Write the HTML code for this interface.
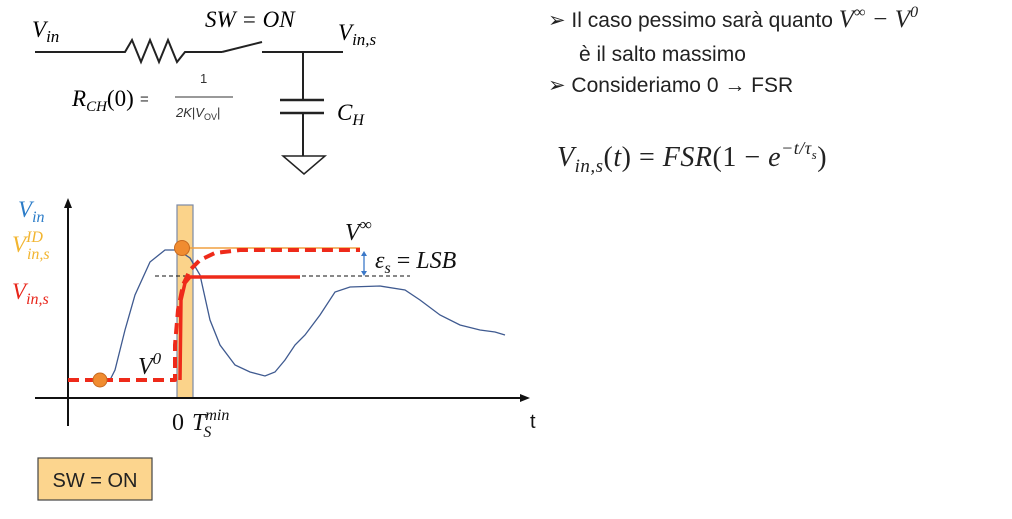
<!DOCTYPE html>
<html><head><meta charset="utf-8"><style>
html,body{margin:0;padding:0;background:#fff;}
svg{display:block;}
.it{font-family:"Liberation Serif",serif;font-style:italic;}
.sans{font-family:"Liberation Sans",sans-serif;}
</style></head><body>
<svg id="root" width="1012" height="519" viewBox="0 0 1012 519" xmlns="http://www.w3.org/2000/svg">
<g stroke="#222" stroke-width="2" fill="none">
  <line x1="35" y1="52" x2="118" y2="52"/>
  <polyline points="118,52 125,52 132,40 141,62 150,40 159,62 168,40 177,62 185,52 222,52"/>
  <line x1="222" y1="52" x2="262" y2="42"/>
  <line x1="262" y1="52" x2="343" y2="52"/>
  <line x1="303" y1="52" x2="303" y2="100"/>
  <line x1="280" y1="100" x2="324" y2="100" stroke-width="2.5"/>
  <line x1="280" y1="113" x2="324" y2="113" stroke-width="2.5"/>
  <line x1="303" y1="113" x2="303" y2="156"/>
  <polygon points="283,156 325,156 304,174" stroke-width="1.5"/>
</g>
<text x="32" y="37" class="it" font-size="23">V<tspan font-size="17" dy="5">in</tspan></text>
<text x="205" y="27" class="it" font-size="23">SW = ON</text>
<text x="338" y="40" class="it" font-size="23">V<tspan font-size="17" dy="5">in,s</tspan></text>
<text x="72" y="106" class="it" font-size="23">R<tspan font-size="15" dy="5">CH</tspan><tspan dy="-5" font-style="normal">(0)</tspan></text>
<text x="140" y="104" font-family="Liberation Sans" font-size="15" fill="#333">=</text>
<text x="200" y="83" font-family="Liberation Sans" font-size="13" fill="#333">1</text>
<line x1="175" y1="97" x2="233" y2="97" stroke="#333" stroke-width="1"/>
<text x="176" y="117" font-family="Liberation Sans" font-size="13" fill="#333"><tspan font-style="italic">2K</tspan>|<tspan font-style="italic">V</tspan><tspan font-size="9" dy="3">OV</tspan><tspan dy="-3">|</tspan></text>
<text x="337" y="120" class="it" font-size="23">C<tspan font-size="16" dy="5">H</tspan></text>

<g class="sans" font-size="21" fill="#222">
  <text x="548" y="27">➢ Il caso pessimo sarà quanto <tspan class="it" font-size="25">V<tspan font-size="16" dy="-10">∞</tspan><tspan dy="10"> − V</tspan><tspan font-size="16" dy="-10">0</tspan></tspan></text>
  <text x="579" y="61">è il salto massimo</text>
  <text x="548" y="92">➢ Consideriamo 0 → FSR</text>
</g>
<text x="557" y="166" class="it" font-size="28" fill="#222" letter-spacing="0.5">V<tspan font-size="19" dy="6">in,s</tspan><tspan dy="-6" font-style="normal">(</tspan>t<tspan font-style="normal">) = </tspan>FSR<tspan font-style="normal">(1 − </tspan>e<tspan font-size="18" dy="-12">−t/τ</tspan><tspan font-size="13" dy="5">s</tspan><tspan dy="7" font-style="normal">)</tspan></text>

<g id="chart"></g>

<rect x="38" y="458" width="114" height="42" fill="#fcd58e" stroke="#444" stroke-width="1.2"/>
<text x="95" y="487" text-anchor="middle" class="sans" font-size="20" fill="#222">SW = ON</text>
</svg>
<script>
// Chart data (t, v in arbitrary units relative to origin)
const blueT = [42,47,57,67,82,97,110,122,132,142,152,167,182,197,207,217,227,237,252,267,282,312,337,352,372,392,412,427,437];
const blueV = [18,28,68,103,136,148,148,140,123,78,53,33,26,22,26,38,53,63,83,106,111,112,108,98,83,73,68,66,63];
const dashT = [0,107,107,110,115,122,132,147,172,292];
const dashV = [18,18,53,88,113,128,138,145,148,148];
const solidT = [112,113,117,122,232];
const solidV = [18,98,115,121,121];
const stepT0 = 107;
const vInf = 148;
const vSampled = 121;
const tickLabels = ["0","T_S^min"];

const NS="http://www.w3.org/2000/svg";
const chart=document.getElementById('chart');
const ox=68, oy=398;
function xS(t){return ox+t;}
function yS(v){return oy-v;}
function mk(tag,attrs){const e=document.createElementNS(NS,tag);for(const k in attrs)e.setAttribute(k,attrs[k]);chart.appendChild(e);return e;}

let bar=mk('rect',{x:xS(stepT0+2),y:yS(193),width:16,height:193,fill:'#fbd38a',stroke:'#7b8aa6','stroke-width':1.2});



let xa=mk('line',{x1:35,y1:oy,x2:522,y2:oy,stroke:'#111','stroke-width':2});


let xah=mk('polygon',{points:`530,${oy} 520,${oy-4} 520,${oy+4}`,fill:'#111'});


let ya=mk('line',{x1:ox,y1:426,x2:ox,y2:205,stroke:'#111','stroke-width':2});


let yah=mk('polygon',{points:`${ox},198 ${ox-4},208 ${ox+4},208`,fill:'#111'});



let ref=mk('line',{x1:xS(87),y1:yS(vSampled+1),x2:xS(342),y2:yS(vSampled+1),stroke:'#111','stroke-width':1,'stroke-dasharray':'4,3'});



let oline=mk('line',{x1:xS(114),y1:yS(vInf+2),x2:xS(292),y2:yS(vInf+2),stroke:'#f0a040','stroke-width':1.5});



let bp=blueT.map((t,i)=>xS(t)+','+yS(blueV[i])).join(' ');
let blue=mk('polyline',{points:bp,fill:'none',stroke:'#3f5a90','stroke-width':1.3});



let rs=mk('polyline',{points:solidT.map((t,i)=>xS(t)+','+yS(solidV[i])).join(' '),fill:'none',stroke:'#ee2a1a','stroke-width':3.5,'stroke-linejoin':'round'});



let rd=mk('polyline',{points:dashT.map((t,i)=>xS(t)+','+yS(dashV[i])).join(' '),fill:'none',stroke:'#ee2a1a','stroke-width':4,'stroke-dasharray':'11,6','stroke-linejoin':'round'});



let ea=mk('line',{x1:xS(296),y1:yS(vInf-3),x2:xS(296),y2:yS(vSampled+3),stroke:'#3b78c8','stroke-width':1.3});


mk('polygon',{points:`${xS(296)},${yS(vInf-1)} ${xS(293)},${yS(vInf-6)} ${xS(299)},${yS(vInf-6)}`,fill:'#3b78c8'});
mk('polygon',{points:`${xS(296)},${yS(vSampled+1)} ${xS(293)},${yS(vSampled+6)} ${xS(299)},${yS(vSampled+6)}`,fill:'#3b78c8'});

let c1=mk('circle',{cx:xS(32),cy:yS(dashV[0]),r:7,fill:'#f08c30',stroke:'#c76a20','stroke-width':1});


let c2=mk('circle',{cx:xS(114),cy:yS(vInf+2),r:7.5,fill:'#f08c30',stroke:'#c76a20','stroke-width':1});



function txt(x,y,html,size,fill,name){const e=mk('text',{x:x,y:y,'font-size':size,fill:fill,class:'it'});e.innerHTML=html;return e;}
txt(18,217,'V<tspan font-size="16" dy="5">in</tspan>',23,'#2b7cc8','y-label-vin');
txt(12,252,'V<tspan font-size="16" dy="-10">ID</tspan><tspan font-size="16" dx="-16" dy="17">in,s</tspan>',23,'#f2b530','y-label-vins-id');
txt(12,299,'V<tspan font-size="16" dy="5">in,s</tspan>',23,'#e8251a','y-label-vins');
txt(345,240,'V<tspan font-size="17" dy="-10">∞</tspan>',24,'#111','vinf-label');
txt(138,374,'V<tspan font-size="17" dy="-10">0</tspan>',24,'#111','v0-label');
txt(375,268,'ε<tspan font-size="16" dy="5">s</tspan><tspan dy="-5" font-style="normal"> = </tspan>LSB',24,'#111','epsilon-lsb-label');
let t0=mk('text',{x:172,y:430,'font-size':24,fill:'#111','font-family':'Liberation Serif'});t0.textContent=tickLabels[0];


txt(192,430,'T<tspan font-size="16" dy="-10">min</tspan><tspan font-size="16" dx="-26" dy="17">S</tspan>',24,'#111','x-tick-tsmin');
let tl=mk('text',{x:530,y:428,'font-size':20,fill:'#111','font-family':'Liberation Sans'});tl.textContent='t';


</script>
</body></html>
